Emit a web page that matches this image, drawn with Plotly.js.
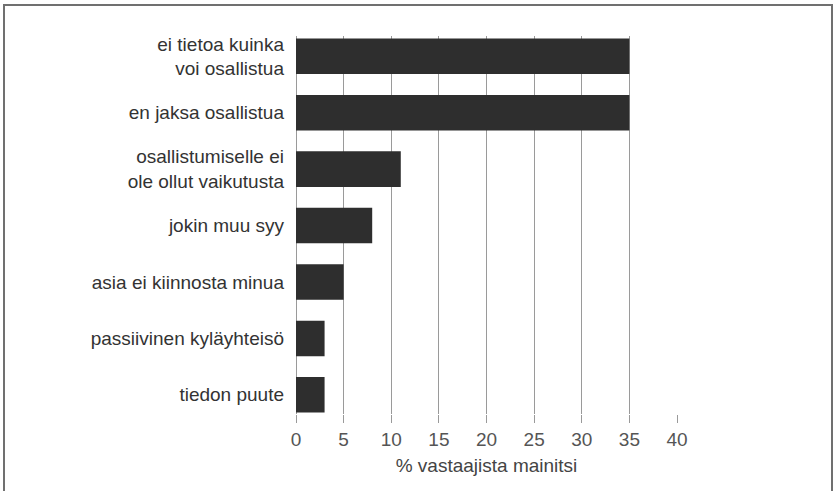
<!DOCTYPE html>
<html>
<head>
<meta charset="utf-8">
<script src="https://cdn.plot.ly/plotly-3.0.1.min.js"></script>
<style>
  html, body { margin: 0; padding: 0; background: #fff; }
  #wrap { position: relative; width: 834px; height: 491px; overflow: hidden; }
  #chart { width: 834px; height: 491px; }
  #frame { position: absolute; left: 3px; top: 4px; width: 830px; height: 500px;
           border: 2px solid #707070; box-sizing: border-box; pointer-events: none; }
</style>
</head>
<body>
<div id="wrap">
  <div id="chart"></div>
  <div id="frame"></div>
</div>
<script>
const categories = [
  "ei tietoa kuinka<br>voi osallistua",
  "en jaksa osallistua",
  "osallistumiselle ei<br>ole ollut vaikutusta",
  "jokin muu syy",
  "asia ei kiinnosta minua",
  "passiivinen kyläyhteisö",
  "tiedon puute"
];
const values = [35, 35, 11, 8, 5, 3, 3];
const xTicks = [0, 5, 10, 15, 20, 25, 30, 35, 40];

const trace = {
  type: 'bar',
  orientation: 'h',
  y: categories,
  x: values,
  marker: { color: '#2e2e2e', line: { width: 0 } },
  hoverinfo: 'x+y'
};

const layout = {
  width: 834,
  height: 491,
  margin: { l: 296, r: 157, t: 36, b: 77, pad: 0 },
  paper_bgcolor: '#ffffff',
  plot_bgcolor: '#ffffff',
  bargap: 0.37,
  showlegend: false,
  font: { family: 'Liberation Sans, Arial, sans-serif', size: 19, color: '#333' },
  xaxis: {
    range: [0, 40],
    tickvals: xTicks,
    ticktext: xTicks.map(String),
    showgrid: true,
    gridcolor: '#9a9a9a',
    gridwidth: 1,
    zeroline: true,
    zerolinecolor: '#9a9a9a',
    zerolinewidth: 1,
    showline: false,
    ticks: 'outside',
    ticklen: 8,
    tickcolor: '#9a9a9a',
    tickfont: { size: 19, color: '#555' },
    title: { text: '% vastaajista mainitsi', font: { size: 19, color: '#444' }, standoff: 9 }
  },
  yaxis: {
    type: 'category',
    categoryorder: 'array',
    categoryarray: categories,
    range: [6.34, -0.36],
    showgrid: false,
    zeroline: false,
    showline: false,
    ticks: '',
    ticklabelstandoff: 11,
    tickfont: { size: 19, color: '#333' }
  }
};

Plotly.newPlot('chart', [trace], layout, { displayModeBar: false, staticPlot: true });
</script>
</body>
</html>
